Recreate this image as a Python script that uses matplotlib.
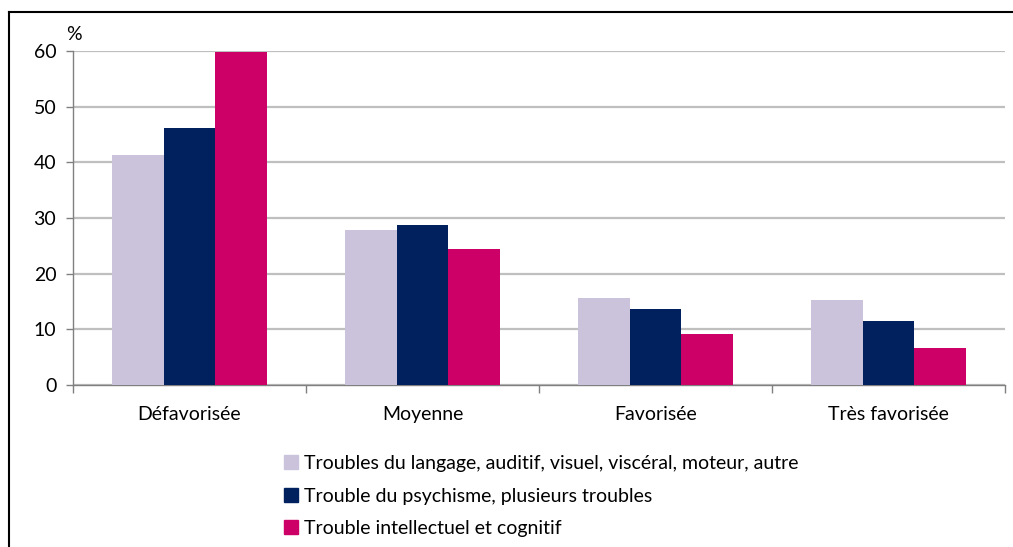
import numpy as np
import matplotlib.pyplot as plt
from matplotlib.patches import Patch
from matplotlib.lines import Line2D

##==============================================================================
categories = ['Défavorisée', 'Moyenne', 'Favorisée', 'Très favorisée']
series_names = ['Troubles du langage, auditif, visuel, viscéral, moteur, autre',
                'Trouble du psychisme, plusieurs troubles',
                'Trouble intellectuel et cognitif']
langage = [41.4, 27.8, 15.6, 15.3]
psychisme = [46.1, 28.8, 13.7, 11.5]
intellectuel = [59.8, 24.5, 9.2, 6.6]
colors = ['#CBC3DB', '#00215E', '#CC0066']

##==============================================================================
plt.rcParams['font.family'] = ['Lato', 'DejaVu Sans']
fs = 14
fig = plt.figure(figsize=(10.13, 5.47), dpi=100)
ax = fig.add_axes([73/1013, 1-385/547, (1005-73)/1013, (385-51)/547])

x = np.arange(len(categories))
w = 0.222
for k, vals in enumerate([langage, psychisme, intellectuel]):
    ax.bar(x + (k-1)*w, vals, width=w, color=colors[k], label=series_names[k], zorder=3)

ax.set_xlim(-0.5, len(categories)-0.5)
ax.set_ylim(0, 60)
ax.set_yticks(range(0, 61, 10))
ax.yaxis.grid(True, color='#BFBFBF', linewidth=1.6, zorder=0)
ax.set_xticks(np.arange(-0.5, len(categories)), labels=[])
ax.set_xticks(x, labels=categories, minor=True)
ax.tick_params(axis='x', which='major', length=6, color='#808080', width=1)
ax.tick_params(axis='x', which='minor', length=0, pad=15, labelsize=fs)
ax.tick_params(axis='y', length=5, color='#808080', width=1, labelsize=fs, pad=7)
for s in ['top', 'right']:
    ax.spines[s].set_visible(False)
for s in ['left', 'bottom']:
    ax.spines[s].set_color('#808080')
    ax.spines[s].set_linewidth(1)
fig.text(66/1013, 1-43/547, '%', fontsize=fs, ha='left', va='bottom')

handles = [Patch(color=c) for c in colors]
fig.legend(handles, series_names, loc='upper left', bbox_to_anchor=(284/1013, 1-455/547),
           frameon=False, fontsize=fs, handlelength=0.72, handleheight=0.72,
           handletextpad=0.3, labelspacing=0.8, borderaxespad=0, borderpad=0)

# outer frame (cut on right and bottom)
fig.add_artist(Line2D([9/1013, 1], [1-12/547, 1-12/547], color='black', lw=1.5))
fig.add_artist(Line2D([9/1013, 9/1013], [0, 1-12/547], color='black', lw=1.5))

fig.savefig('out.png', dpi=100)
